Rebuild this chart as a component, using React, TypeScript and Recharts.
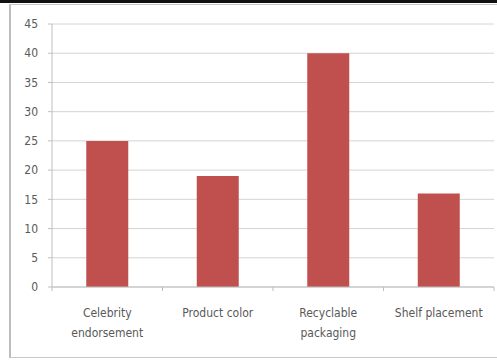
import React from "react";
import { BarChart, Bar, XAxis, YAxis, CartesianGrid } from "recharts";

const categories = ["Celebrity endorsement", "Product color", "Recyclable packaging", "Shelf placement"];
const values = [25, 19, 40, 16];
const tickLabelLines = [["Celebrity", "endorsement"], ["Product color"], ["Recyclable", "packaging"], ["Shelf placement"]];
const yTicks = [0, 5, 10, 15, 20, 25, 30, 35, 40, 45];

const data = categories.map((c, i) => ({ name: c, value: values[i] }));

const FONT = "'DejaVu Sans Condensed', 'Liberation Sans Narrow', sans-serif";

const XTick = (props: any) => {
  const { x, y, index, width, visibleTicksCount } = props;
  const count = visibleTicksCount || categories.length;
  const half = width / count / 2;
  const lines = tickLabelLines[index] || [categories[index]];
  return (
    <g>
      {index === 0 && <line x1={x - half} x2={x - half} y1={y} y2={y + 4} stroke="#bfbfbf" />}
      <line x1={x + half} x2={x + half} y1={y} y2={y + 4} stroke="#bfbfbf" />
      {lines.map((l: string, i: number) => (
        <text key={i} x={x} y={y + 30 + i * 20} textAnchor="middle" fill="#595959" fontSize={12} fontFamily={FONT}>
          {l}
        </text>
      ))}
    </g>
  );
};

export default function App() {
  return (
    <div style={{ position: "absolute", left: 0, top: 0, width: 497, height: 360, background: "#fff", overflow: "hidden" }}>
      <div style={{ position: "absolute", left: 0, top: 0, width: 497, height: 3, background: "#111" }} />
      <div style={{ position: "absolute", left: 9, top: 4, width: 490, height: 354, borderTop: "1px solid #c8c8c8", borderLeft: "2px solid #bdbdbd", borderBottom: "1px solid #c8c8c8", boxSizing: "border-box" }} />
      <BarChart
        width={497}
        height={360}
        data={data}
        margin={{ top: 24, right: 3, left: 12, bottom: 33 }}
        barCategoryGap="31%"
        style={{ position: "absolute", left: 0, top: 0 }}
      >
        <CartesianGrid vertical={false} stroke="#d4d4d4" />
        <XAxis
          dataKey="name"
          height={40}
          interval={0}
          tickSize={0}
          tickMargin={0}
          tickLine={false}
          axisLine={{ stroke: "#bfbfbf" }}
          tick={<XTick />}
        />
        <YAxis
          width={40}
          domain={[0, 45]}
          ticks={yTicks}
          interval={0}
          tickSize={4}
          tickMargin={10}
          tickLine={{ stroke: "#bfbfbf" }}
          axisLine={{ stroke: "#bfbfbf" }}
          tick={{ fill: "#595959", fontSize: 12, fontFamily: FONT }}
        />
        <Bar dataKey="value" fill="#C0504D" isAnimationActive={false} />
      </BarChart>
    </div>
  );
}
